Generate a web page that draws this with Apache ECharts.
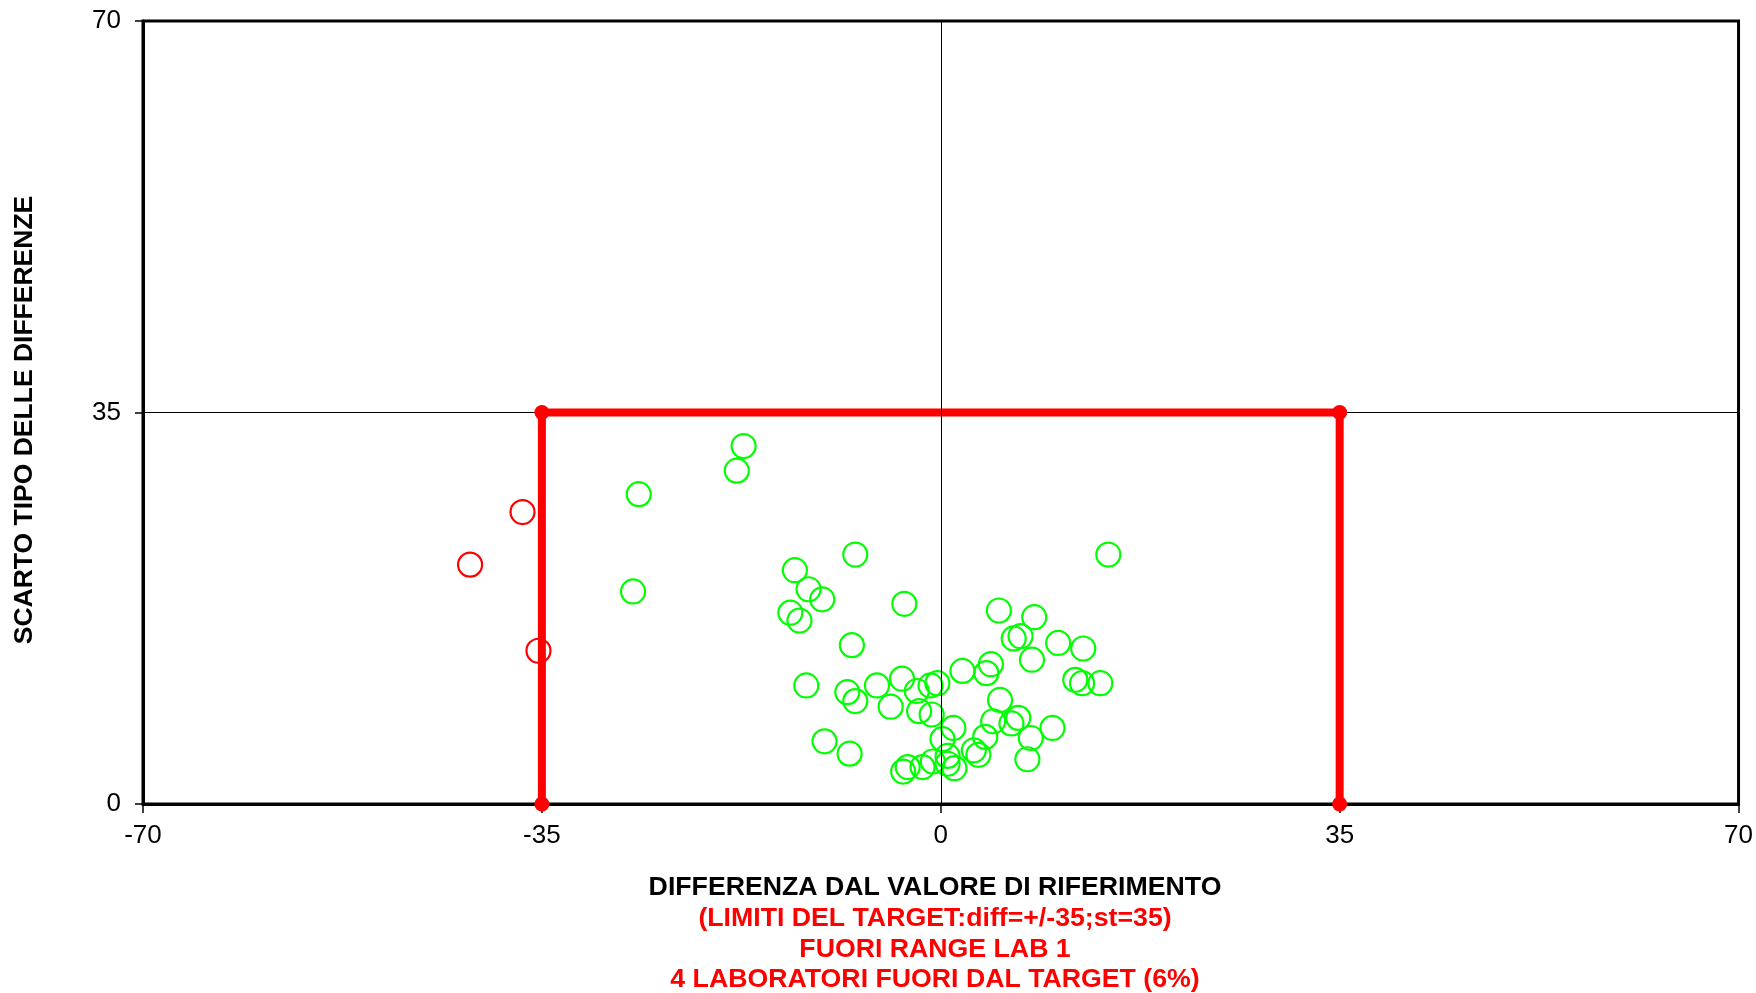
<!DOCTYPE html>
<html>
<head>
<meta charset="utf-8">
<script src="https://cdn.jsdelivr.net/npm/echarts@6/dist/echarts.min.js"></script>
<style>html,body{margin:0;padding:0;background:#fff;}#c{width:1756px;height:993px;}</style>
</head>
<body>
<div id="c"></div>
<script>
// Laboratories inside target (green)
const greenX = [-26.5,-27.0,-17.9,-17.3,-7.5,-12.8,-11.6,-10.4,-13.2,-12.4,-3.2,-7.8,5.1,-11.8,-8.2,-7.5,-5.6,-3.4,-2.1,-0.9,-0.3,1.9,4.4,4.0,6.4,7.0,5.2,-4.4,
  -10.2,-8.0,-3.3,-2.9,-1.6,-0.7,0.15,1.1,0.6,0.6,1.2,-1.9,-0.8,8.2,8.0,10.3,12.5,14.7,11.8,12.4,14.0,4.6,3.9,2.9,3.3,6.2,6.8,7.9,9.8,7.6];
const greenY = [27.7,19.0,29.8,32.0,22.3,20.9,19.2,18.3,17.1,16.4,17.9,14.2,17.3,10.6,10.0,9.2,10.6,11.2,10.1,10.6,10.8,11.9,12.5,11.7,14.8,15.0,9.3,8.7,
  5.6,4.5,2.9,3.3,3.3,3.8,5.8,6.8,3.6,4.3,3.2,8.3,8.0,16.7,12.9,14.4,13.9,22.3,11.1,10.8,10.8,7.4,6.0,4.8,4.4,7.2,7.7,5.9,6.8,4.0];
// Laboratories outside target (red)
const redX = [-41.3,-36.7,-35.3];
const redY = [21.4,26.1,13.7];
// Target limits
const targetX = [-35,-35,35,35];
const targetY = [0,35,35,0];
// Axis ticks
const xTicks = [-70,-35,0,35,70];
const yTicks = [0,35,70];

const FONT = '"Liberation Sans", Arial, sans-serif';
const zip = (a,b) => a.map((v,i)=>[v,b[i]]);

const chart = echarts.init(document.getElementById('c'));
chart.setOption({
  animation:false,
  backgroundColor:'#fff',
  grid:{left:143,right:12,top:21,bottom:189,show:true,borderColor:'#000',borderWidth:3},
  xAxis:{type:'value',min:xTicks[0],max:xTicks[xTicks.length-1],interval:35,
    axisLine:{onZero:false,lineStyle:{color:'#000',width:3}},
    axisTick:{show:true,length:9,lineStyle:{color:'#000',width:1.5}},
    axisLabel:{fontFamily:FONT,fontSize:26,color:'#000',margin:19},
    splitLine:{show:false}},
  yAxis:{type:'value',min:yTicks[0],max:yTicks[yTicks.length-1],interval:35,
    axisLine:{onZero:false,lineStyle:{color:'#000',width:3}},
    axisTick:{show:true,length:8,lineStyle:{color:'#000',width:1.5}},
    axisLabel:{fontFamily:FONT,fontSize:26,color:'#000',margin:22},
    splitLine:{show:true,lineStyle:{color:'#000',width:1}}},
  series:[
    {type:'line',data:zip(targetX,targetY),z:3,
     lineStyle:{color:'#ff0000',width:8},itemStyle:{color:'#ff0000'},
     symbol:'circle',symbolSize:15,showSymbol:true,
     markLine:{silent:true,symbol:['none','none'],label:{show:false},
       lineStyle:{color:'#000',width:1,type:'solid'},data:[{xAxis:0}]}},
    {type:'scatter',data:zip(greenX,greenY),z:4,symbol:'circle',symbolSize:24,
     itemStyle:{color:'rgba(255,255,255,0)',borderColor:'#00ff00',borderWidth:2.2,opacity:1}},
    {type:'scatter',data:zip(redX,redY),z:4,symbol:'circle',symbolSize:24,
     itemStyle:{color:'rgba(255,255,255,0)',borderColor:'#ff0000',borderWidth:2.2,opacity:1}}
  ],
  graphic:[
    {type:'text',x:25,y:420,rotation:Math.PI/2,style:{text:'SCARTO TIPO DELLE DIFFERENZE',font:'bold 26.5px '+FONT,fill:'#000',textAlign:'center',textVerticalAlign:'middle'}},
    {type:'text',x:935,y:888,style:{text:'DIFFERENZA DAL VALORE DI RIFERIMENTO',font:'bold 26.7px '+FONT,fill:'#000',textAlign:'center',textVerticalAlign:'middle'}},
    {type:'text',x:935,y:919,style:{text:'(LIMITI DEL TARGET:diff=+/-35;st=35)',font:'bold 26.7px '+FONT,fill:'#ff0000',textAlign:'center',textVerticalAlign:'middle'}},
    {type:'text',x:935,y:950,style:{text:'FUORI RANGE LAB 1',font:'bold 26.7px '+FONT,fill:'#ff0000',textAlign:'center',textVerticalAlign:'middle'}},
    {type:'text',x:935,y:980,style:{text:'4 LABORATORI FUORI DAL TARGET (6%)',font:'bold 26.7px '+FONT,fill:'#ff0000',textAlign:'center',textVerticalAlign:'middle'}}
  ]
});
</script>
</body>
</html>
